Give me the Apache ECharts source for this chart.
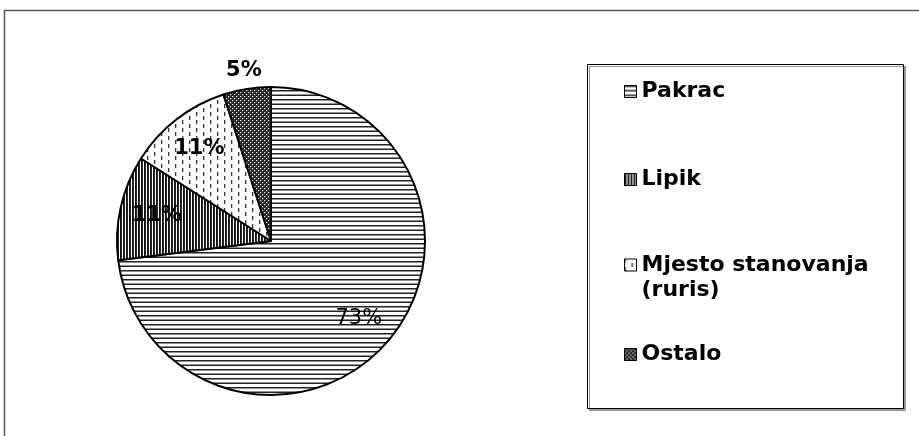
<!DOCTYPE html>
<html><head><meta charset="utf-8">
<script src="https://cdn.jsdelivr.net/npm/echarts@6/dist/echarts.min.js"></script>
<style>html,body{margin:0;padding:0;background:#fff}#c{width:919px;height:436px}</style>
</head><body><div id="c"></div>
<script>
const categories = ['Pakrac', 'Lipik', 'Mjesto stanovanja (ruris)', 'Ostalo'];
const values = [73, 11, 11, 5];
const legendLabels = ['Pakrac', 'Lipik', 'Mjesto stanovanja\n(ruris)', 'Ostalo'];

function tile(w, h, draw) {
  const c = document.createElement('canvas');
  c.width = w; c.height = h;
  const g = c.getContext('2d');
  g.fillStyle = '#fff'; g.fillRect(0, 0, w, h);
  draw(g);
  return { image: c, repeat: 'repeat' };
}
const patterns = [
  tile(8, 9, g => { g.fillStyle = '#222'; g.fillRect(0, 0, 8, 1.5); g.fillRect(0, 4.5, 8, 1.5); }),
  tile(3, 8, g => { g.fillStyle = '#111'; g.fillRect(0, 0, 1.9, 8); }),
  tile(14, 8, g => { g.fillStyle = '#333'; g.fillRect(0, 0, 1.3, 4); g.fillRect(7, 4, 1.3, 4); }),
  tile(4, 4, g => { g.fillStyle = '#222'; g.fillRect(0, 0, 4, 4); g.fillStyle = '#fff'; g.fillRect(0, 0, 1.2, 1.2); g.fillRect(2, 2, 1.2, 1.2); })
];

const FONT = 'DejaVu Sans';
const chart = echarts.init(document.getElementById('c'), null, { renderer: 'canvas' });
const legendTops = [79, 167, 227.5, 342];
const legendText = { fontFamily: FONT, fontWeight: 'bold', fontSize: 22, color: '#000', lineHeight: 25 };

const option = {
  animation: false,
  backgroundColor: '#fff',
  graphic: [
    { type: 'rect', silent: true, shape: { x: 4.5, y: 10.5, width: 1000, height: 1000 },
      style: { fill: 'none', stroke: '#555', lineWidth: 1.5 } },
    { type: 'rect', silent: true, shape: { x: 587.5, y: 64.5, width: 316, height: 344 },
      style: { fill: '#fff', stroke: '#000', lineWidth: 1, shadowColor: '#999', shadowOffsetX: 2, shadowOffsetY: 2, shadowBlur: 0 } }
  ],
  legend: categories.map((name, i) => ({
    data: [name],
    orient: 'vertical',
    left: 624,
    top: legendTops[i],
    padding: 0,
    icon: 'rect',
    itemWidth: 12,
    itemHeight: 12,
    selectedMode: false,
    itemStyle: { borderColor: '#000', borderWidth: 1 },
    formatter: () => (i === 2 ? '\n' : '') + legendLabels[i],
    textStyle: legendText
  })),
  series: [
    {
      type: 'pie', center: [271, 241], radius: 154, startAngle: 90, clockwise: true,
      label: { show: false }, labelLine: { show: false },
      emphasis: { disabled: true },
      itemStyle: { borderColor: '#000', borderWidth: 2 },
      data: categories.map((n, i) => ({ name: n, value: values[i], itemStyle: { color: patterns[i] } }))
    },
    {
      type: 'pie', center: [271, 241], radius: [0, 228], startAngle: 90, clockwise: true,
      silent: true, legendHoverLink: false, avoidLabelOverlap: false,
      emphasis: { disabled: true },
      itemStyle: { color: 'rgba(0,0,0,0)', borderWidth: 0 },
      labelLine: { show: false },
      label: { show: true, position: 'inside', formatter: '{d}%', fontFamily: FONT, fontSize: 21, fontWeight: 'bold', color: '#000' },
      data: categories.map((n, i) => ({
        name: n, value: values[i],
        label: i === 0 ? { fontWeight: 'normal' } : (i === 3 ? { show: false } : {})
      }))
    },
    {
      type: 'pie', center: [271, 241], radius: [154, 186], startAngle: 90, clockwise: true,
      silent: true, legendHoverLink: false, avoidLabelOverlap: false,
      emphasis: { disabled: true },
      itemStyle: { color: 'rgba(0,0,0,0)', borderWidth: 0 },
      labelLine: { show: false },
      label: { show: true, position: 'inside', formatter: '{d}%', fontFamily: FONT, fontSize: 21, fontWeight: 'bold', color: '#000' },
      data: categories.map((n, i) => ({ name: n, value: values[i], label: { show: i === 3 } }))
    }
  ]
};
chart.setOption(option);
</script>
</body></html>
